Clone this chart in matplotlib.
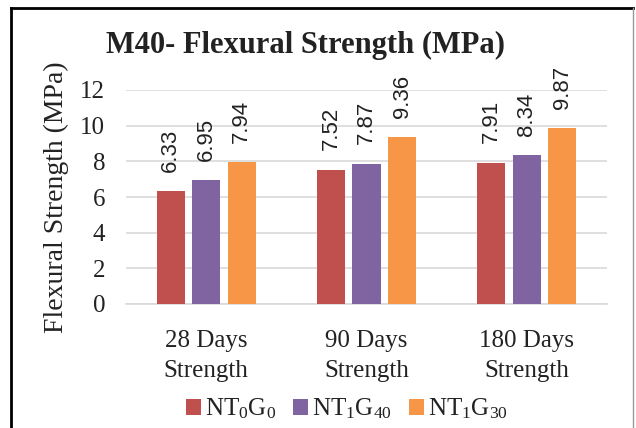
import matplotlib
matplotlib.use("Agg")
import matplotlib.pyplot as plt
import numpy as np
from matplotlib.lines import Line2D
from matplotlib.patches import Patch

categories = ["28 Days\nStrength", "90 Days\nStrength", "180 Days\nStrength"]
series_names = [r"NT$_0$G$_0$", r"NT$_1$G$_{40}$", r"NT$_1$G$_{30}$"]
nt0g0 = [6.33, 7.52, 7.91]
nt1g40 = [6.95, 7.87, 8.34]
nt1g30 = [7.94, 9.36, 9.87]
yticks = [0, 2, 4, 6, 8, 10, 12]

colors = ["#C0504D", "#8064A2", "#F79646"]

plt.rcParams["font.family"] = ["Liberation Serif", "DejaVu Serif"]
plt.rcParams["mathtext.fontset"] = "custom"
plt.rcParams["mathtext.rm"] = "Liberation Serif"
plt.rcParams["mathtext.it"] = "Liberation Serif"

fig = plt.figure(figsize=(6.36, 4.28), dpi=100)
ax = fig.add_axes([126 / 636, 1 - 304 / 428, 481 / 636, 214 / 428])

x = np.arange(len(categories))
width = 0.175
step = 0.222
all_series = [nt0g0, nt1g40, nt1g30]
for i, (vals, col, name) in enumerate(zip(all_series, colors, series_names)):
    pos = x + (i - 1) * step
    bars = ax.bar(pos, vals, width=width, color=col, label=name, zorder=3)
    for b, v in zip(bars, vals):
        ax.annotate(f"{v:.2f}", (b.get_x() + b.get_width() / 2, v),
                    xytext=(0, 14), textcoords="offset points",
                    rotation=90, ha="center", va="bottom",
                    fontsize=16, family="Liberation Sans", color="#222222")

ax.set_xlim(-0.5, 2.5)
ax.set_ylim(0, 12)
ax.set_yticks(yticks)
ax.set_yticklabels([str(t) for t in yticks])
ax.set_xticks(x)
ax.set_xticklabels(categories, linespacing=1.45)
ax.tick_params(axis="both", length=0, labelsize=18, colors="#222222")
ax.tick_params(axis="y", pad=15)
ax.tick_params(axis="x", pad=19)
ax.grid(axis="y", color="#d9d9d9", linewidth=1.2, zorder=0)
for s in ["top", "right", "left"]:
    ax.spines[s].set_visible(False)
ax.spines["bottom"].set_color("#d9d9d9")
ax.spines["bottom"].set_linewidth(1.2)

ax.set_ylabel("Flexural Strength (MPa)", fontsize=20, color="#222222", labelpad=8)

fig.text(305 / 636, 1 - 45 / 428, "M40- Flexural Strength (MPa)",
         ha="center", va="center", fontsize=22, fontweight="bold", color="#222222")

handles = [Patch(facecolor=c, edgecolor="none") for c in colors]
fig.legend(handles, series_names, loc="center", ncol=3,
           bbox_to_anchor=(347 / 636, 1 - 409 / 428), frameon=False,
           fontsize=18, handlelength=0.6, handleheight=0.6,
           handletextpad=0.15, columnspacing=0.7, labelcolor="#222222")

# frame lines around the chart
fig.add_artist(Line2D([11 / 636, 11 / 636], [0, 1 - 8 / 428], color="black", linewidth=2, transform=fig.transFigure))
fig.add_artist(Line2D([11 / 636, 633 / 636], [1 - 8 / 428, 1 - 8 / 428], color="black", linewidth=2, transform=fig.transFigure))
fig.add_artist(Line2D([633 / 636, 633 / 636], [0, 1 - 8 / 428], color="#9a9a9a", linewidth=1, transform=fig.transFigure))

fig.savefig("out.png", dpi=100)
